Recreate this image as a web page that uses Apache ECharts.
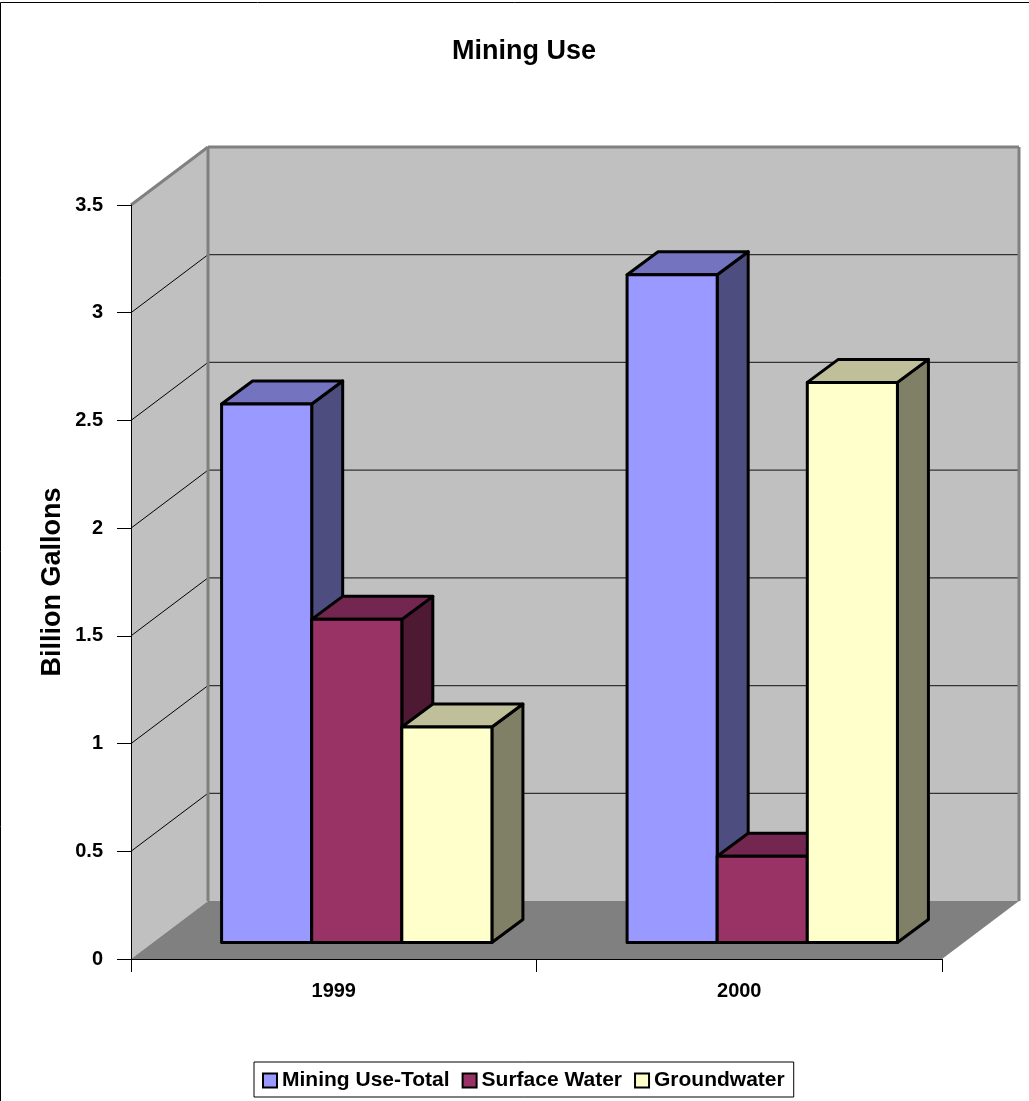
<!DOCTYPE html>
<html>
<head>
<meta charset="utf-8">
<title>Mining Use</title>
<script src="https://cdn.jsdelivr.net/npm/echarts@6/dist/echarts.min.js"></script>
<style>
  html, body { margin: 0; padding: 0; background: #fff; }
  #chart { width: 1029px; height: 1101px; }
</style>
</head>
<body>
<div id="chart"></div>
<script>
var categories = ['1999', '2000']
var miningTotal = [2.5, 3.1]
var surfaceWater = [1.5, 0.4]
var groundwater = [1.0, 2.6]
var seriesNames = ['Mining Use-Total', 'Surface Water', 'Groundwater']
var wallTicks = [0.5, 1, 1.5, 2, 2.5, 3]

var frontColors = ['#9999ff', '#993366', '#ffffcc']
var topColors = ['#7373bf', '#732650', '#bfbf99']
var sideColors = ['#4d4d80', '#4d1933', '#808066']

var FONT = '"Liberation Sans", Arial, sans-serif'
// 3d projection, walls sit this far behind the axis plane
var DEPTH_X = 77
var DEPTH_Y = 58
var BAR_DEPTH_X = 31
var BAR_DEPTH_Y = 23
var BAR_OFFSET_X = 23
var BAR_OFFSET_Y = 16.5
var GROUP_RATIO = 1 / 1.5

function poly(points, fill, stroke, lineWidth) {
  return {
    type: 'polygon',
    shape: { points: points },
    style: { fill: fill, stroke: stroke || null, lineWidth: lineWidth || 0, lineJoin: 'round' },
    silent: true
  }
}

function seg(x1, y1, x2, y2, color, width) {
  return {
    type: 'line',
    shape: { x1: x1, y1: y1, x2: x2, y2: y2 },
    style: { stroke: color, lineWidth: width },
    silent: true
  }
}

function renderWalls(params, api) {
  var cs = params.coordSys
  var l = cs.x, r = cs.x + cs.width, t = cs.y, b = cs.y + cs.height
  var children = [
    poly([[l, t], [l + DEPTH_X, t - DEPTH_Y], [l + DEPTH_X, b - DEPTH_Y], [l, b]], '#c0c0c0'),
    poly([[l + DEPTH_X, t - DEPTH_Y], [r + DEPTH_X, t - DEPTH_Y], [r + DEPTH_X, b - DEPTH_Y], [l + DEPTH_X, b - DEPTH_Y]], '#c0c0c0'),
    poly([[l, b], [r, b], [r + DEPTH_X, b - DEPTH_Y], [l + DEPTH_X, b - DEPTH_Y]], '#808080')
  ]
  wallTicks.forEach(function (v) {
    var y = api.coord([0, v])[1]
    children.push(seg(l, y, l + DEPTH_X, y - DEPTH_Y, '#000', 1))
    children.push(seg(l + DEPTH_X, y - DEPTH_Y, r + DEPTH_X, y - DEPTH_Y, '#333', 1.2))
  })
  children.push(seg(l, t, l + DEPTH_X, t - DEPTH_Y, '#808080', 3))
  children.push(seg(l + DEPTH_X, t - DEPTH_Y, r + DEPTH_X, t - DEPTH_Y, '#808080', 3))
  children.push(seg(l + DEPTH_X, t - DEPTH_Y, l + DEPTH_X, b - DEPTH_Y, '#808080', 3))
  children.push(seg(r + DEPTH_X, t - DEPTH_Y, r + DEPTH_X, b - DEPTH_Y, '#808080', 3))
  return { type: 'group', children: children }
}

function barRenderer(index) {
  return function (params, api) {
    var cat = api.value(0)
    var band = api.size([1, 0])[0]
    var barW = band * GROUP_RATIO / seriesNames.length
    var base = api.coord([cat, 0])
    var topPt = api.coord([cat, api.value(1)])
    var x0 = base[0] - band * GROUP_RATIO / 2 + index * barW + BAR_OFFSET_X
    var x1 = x0 + barW
    var y0 = base[1] - BAR_OFFSET_Y
    var y1 = topPt[1] - BAR_OFFSET_Y
    return {
      type: 'group',
      children: [
        poly([[x1, y1], [x1 + BAR_DEPTH_X, y1 - BAR_DEPTH_Y], [x1 + BAR_DEPTH_X, y0 - BAR_DEPTH_Y], [x1, y0]], sideColors[index], '#000', 3),
        poly([[x0, y1], [x0 + BAR_DEPTH_X, y1 - BAR_DEPTH_Y], [x1 + BAR_DEPTH_X, y1 - BAR_DEPTH_Y], [x1, y1]], topColors[index], '#000', 3),
        poly([[x0, y1], [x1, y1], [x1, y0], [x0, y0]], frontColors[index], '#000', 3)
      ]
    }
  }
}

function barSeries(index, values) {
  return {
    name: seriesNames[index],
    type: 'custom',
    z: 3,
    clip: false,
    itemStyle: { color: frontColors[index], borderColor: '#000', borderWidth: 2.5 },
    encode: { x: 0, y: 1 },
    data: values.map(function (v, i) { return [i, v] }),
    renderItem: barRenderer(index)
  }
}

var chart = echarts.init(document.getElementById('chart'), null, { renderer: 'canvas' })
chart.setOption({
  animation: false,
  backgroundColor: '#fff',
  textStyle: { fontFamily: FONT, color: '#000' },
  title: {
    text: 'Mining Use',
    left: 519,
    top: 33,
    textAlign: 'center',
    textStyle: { fontFamily: FONT, fontSize: 27, fontWeight: 'bold', color: '#000' }
  },
  grid: { left: 131, right: 87, top: 205, bottom: 142 },
  xAxis: {
    type: 'category',
    data: categories,
    z: 5,
    axisLine: { lineStyle: { color: '#000', width: 1 } },
    axisTick: { show: true, length: 13, lineStyle: { color: '#000' } },
    axisLabel: { margin: 22, fontFamily: FONT, fontSize: 20, fontWeight: 'bold', color: '#000' }
  },
  yAxis: {
    type: 'value',
    min: 0,
    max: 3.5,
    interval: 0.5,
    z: 5,
    name: 'Billion Gallons',
    nameLocation: 'middle',
    nameGap: 65,
    nameMoveOverlap: false,
    nameTextStyle: { fontFamily: FONT, fontSize: 27, fontWeight: 'bold', color: '#000' },
    splitLine: { show: false },
    axisLine: { show: true, lineStyle: { color: '#000', width: 1 } },
    axisTick: { show: true, length: 14, lineStyle: { color: '#000' } },
    axisLabel: { margin: 28, fontFamily: FONT, fontSize: 20, fontWeight: 'bold', color: '#000' }
  },
  legend: {
    left: 254,
    top: 1062,
    data: seriesNames,
    icon: 'rect',
    itemWidth: 14,
    itemHeight: 14,
    itemGap: 12,
    padding: [8, 9, 6, 8],
    borderColor: '#000',
    borderWidth: 1,
    selectedMode: false,
    textStyle: { fontFamily: FONT, fontSize: 21, fontWeight: 'bold', color: '#000' }
  },
  graphic: [{
    type: 'polyline',
    shape: { points: [[0.5, 1101], [0.5, 2.5], [1029, 2.5]] },
    style: { stroke: '#000', lineWidth: 1, fill: null },
    silent: true
  }],
  series: [
    {
      type: 'custom',
      name: 'walls',
      z: 1,
      clip: false,
      silent: true,
      data: [[0, 0]],
      renderItem: renderWalls
    },
    barSeries(0, miningTotal),
    barSeries(1, surfaceWater),
    barSeries(2, groundwater)
  ]
})
</script>
</body>
</html>
